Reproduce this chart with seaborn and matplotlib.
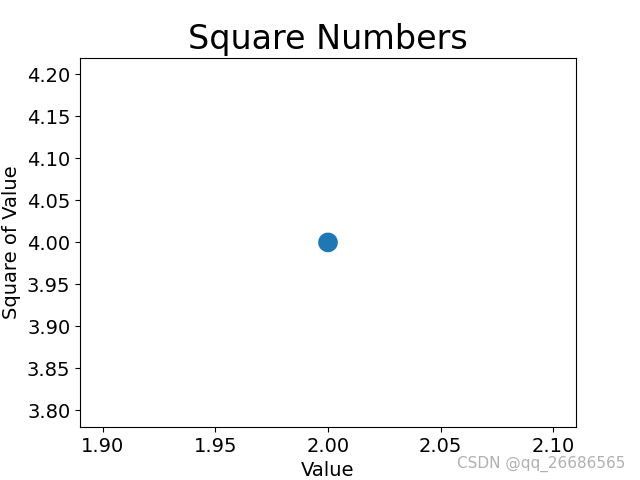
import matplotlib
matplotlib.use("Agg")
import pandas as pd
import seaborn as sns
import matplotlib.pyplot as plt

# Data
values = [2]
squares = [4]

# Keep matplotlib's default look (black text, plain white axes)
sns.reset_orig()
plt.rcParams["font.family"] = ["DejaVu Sans"]

fig, ax = plt.subplots(figsize=(6.4, 4.8), dpi=100)
df = pd.DataFrame({"Value": values, "Square of Value": squares})

sns.scatterplot(data=df, x="Value", y="Square of Value", s=200,
                color="#1f77b4", edgecolor="none", ax=ax)

# Label the chart
ax.set_title("Square Numbers", fontsize=24)
ax.set_xlabel("Value", fontsize=14)
ax.set_ylabel("Square of Value", fontsize=14)
ax.tick_params(axis="both", which="major", labelsize=14)

fig.text(0.977, 0.016, "CSDN @qq_26686565", ha="right", va="bottom",
         fontsize=11, color="#b0b0b0")

plt.savefig("out.png", dpi=100)
